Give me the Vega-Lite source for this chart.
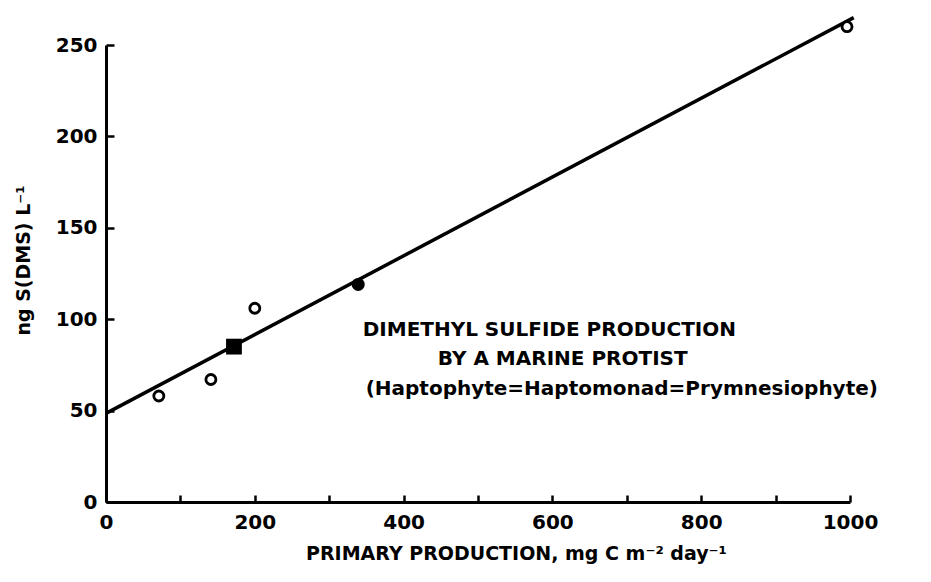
{
  "$schema": "https://vega.github.io/schema/vega-lite/v6.json",
  "autosize": {"type": "none"},
  "padding": {"left": 106, "top": 45, "right": 81, "bottom": 80},
  "width": 744,
  "height": 457,
  "background": "white",
  "config": {
    "view": {"stroke": null},
    "font": "DejaVu Sans"
  },
  "datasets": {
    "points": [
      {"pp": 71, "dms": 58, "marker": "open"},
      {"pp": 141, "dms": 67, "marker": "open"},
      {"pp": 200, "dms": 106, "marker": "open"},
      {"pp": 996, "dms": 260, "marker": "open"},
      {"pp": 172, "dms": 85, "marker": "square"},
      {"pp": 339, "dms": 119, "marker": "dot"}
    ],
    "fit": [
      {"pp": 0, "dms": 48.5},
      {"pp": 1005, "dms": 265}
    ],
    "notes": [
      {"pp": 345, "dms": 94, "label": "DIMETHYL SULFIDE PRODUCTION"},
      {"pp": 446, "dms": 78, "label": "BY A MARINE PROTIST"},
      {"pp": 349, "dms": 62, "label": "(Haptophyte=Haptomonad=Prymnesiophyte)"}
    ]
  },
  "encoding": {
    "x": {
      "field": "pp", "type": "quantitative",
      "scale": {"domain": [0, 1000], "nice": false, "zero": false},
      "axis": {
        "title": "PRIMARY PRODUCTION, mg C m⁻² day⁻¹",
        "values": [0, 100, 200, 300, 400, 500, 600, 700, 800, 900, 1000],
        "format": "d",
        "labelExpr": "datum.value % 200 == 0 ? datum.label : ''",
        "grid": false,
        "domainColor": "black", "domainWidth": 3,
        "tickColor": "black", "tickWidth": 2.5, "tickSize": -7,
        "labelPadding": 17,
        "labelFont": "DejaVu Sans", "labelFontSize": 20, "labelFontWeight": "bold", "labelColor": "black",
        "labelFlush": false,
        "titleFont": "DejaVu Sans", "titleFontSize": 19, "titleFontWeight": "bold", "titleColor": "black",
        "titlePadding": 12,
        "titleX": 410
      }
    },
    "y": {
      "field": "dms", "type": "quantitative",
      "scale": {"domain": [0, 250], "nice": false, "zero": false},
      "axis": {
        "title": "ng S(DMS) L⁻¹",
        "values": [0, 50, 100, 150, 200, 250],
        "grid": false,
        "domainColor": "black", "domainWidth": 3,
        "tickColor": "black", "tickWidth": 2.5, "tickSize": -8,
        "labelPadding": 17,
        "labelFont": "DejaVu Sans", "labelFontSize": 20, "labelFontWeight": "bold", "labelColor": "black",
        "labelFlush": false,
        "titleFont": "DejaVu Sans", "titleFontSize": 19, "titleFontWeight": "bold", "titleColor": "black",
        "titlePadding": 22,
        "titleY": 215
      }
    }
  },
  "layer": [
    {
      "data": {"name": "fit"},
      "mark": {"type": "line", "color": "black", "strokeWidth": 3.5, "clip": false}
    },
    {
      "data": {"name": "points"},
      "transform": [{"filter": "datum.marker == 'open'"}],
      "mark": {"type": "point", "shape": "circle", "filled": false, "color": "black", "fill": "white", "fillOpacity": 1, "strokeWidth": 2.8, "size": 100, "opacity": 1}
    },
    {
      "data": {"name": "points"},
      "transform": [{"filter": "datum.marker == 'dot'"}],
      "mark": {"type": "point", "shape": "circle", "filled": true, "color": "black", "size": 170, "opacity": 1}
    },
    {
      "data": {"name": "points"},
      "transform": [{"filter": "datum.marker == 'square'"}],
      "mark": {"type": "point", "shape": "square", "filled": true, "color": "black", "size": 250, "opacity": 1}
    },
    {
      "data": {"name": "notes"},
      "mark": {"type": "text", "align": "left", "baseline": "middle", "font": "DejaVu Sans", "fontSize": 20, "fontWeight": "bold", "color": "black"},
      "encoding": {"text": {"field": "label"}}
    }
  ]
}
